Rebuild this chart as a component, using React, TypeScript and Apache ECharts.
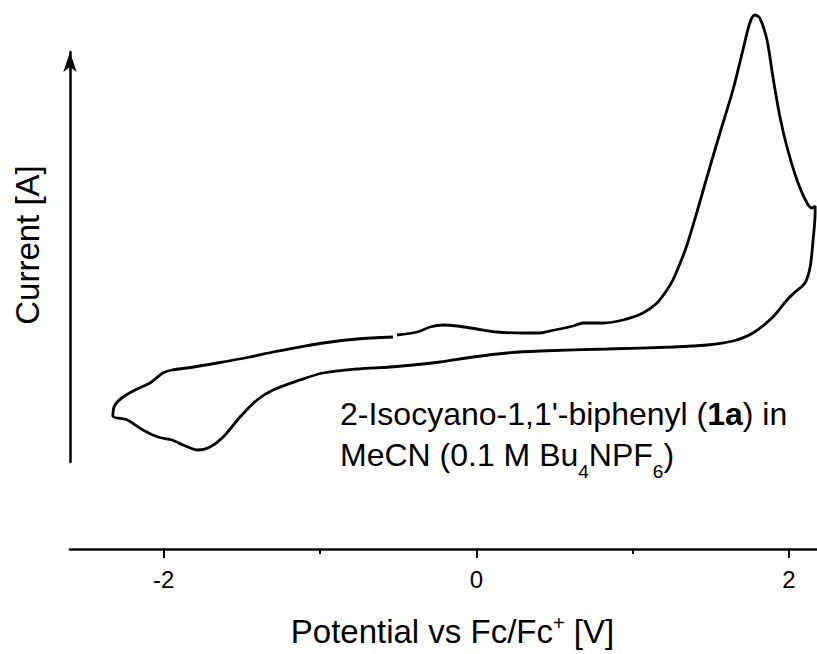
import React, { useEffect, useRef } from "react";
import * as echarts from "echarts";

// Anodic (forward) scan, from the start point to the positive vertex
const forwardPotential = [-0.507, -0.379, -0.296, -0.213, -0.123, 0.004, 0.132, 0.299, 0.408, 0.472, 0.619, 0.683, 0.811, 0.939, 1.066, 1.156, 1.22, 1.258, 1.302, 1.348, 1.412, 1.476, 1.559, 1.642, 1.706, 1.75, 1.782, 1.814, 1.86, 1.898, 1.943, 1.988, 2.052, 2.116, 2.149, 2.168];
const forwardCurrent = [21.4, 21.7, 22.2, 22.4, 22.3, 22.0, 21.7, 21.6, 21.6, 21.8, 22.3, 22.6, 22.6, 22.9, 23.6, 24.6, 25.9, 26.9, 28.5, 30.4, 33.7, 37.2, 41.6, 45.9, 49.9, 52.6, 53.4, 53.1, 50.9, 47.2, 43.2, 40.2, 36.9, 34.6, 34.1, 34.3];

// Cathodic (reverse) scan, from the positive vertex to the negative vertex
const reversePotential = [2.168, 2.155, 2.136, 2.103, 2.04, 1.988, 1.898, 1.77, 1.642, 1.476, 1.258, 0.836, 0.408, 0.196, -0.021, -0.232, -0.341, -0.552, -0.763, -0.981, -1.129, -1.301, -1.403, -1.512, -1.62, -1.704, -1.781, -1.877, -1.947, -2.037, -2.133, -2.234, -2.326];
const reverseCurrent = [33.6, 30.9, 28.2, 26.6, 25.7, 24.9, 23.2, 21.6, 20.8, 20.4, 20.2, 20.0, 19.8, 19.6, 19.2, 18.7, 18.5, 18.2, 18.0, 17.6, 16.9, 15.9, 14.9, 13.2, 11.2, 10.2, 9.9, 10.4, 10.9, 11.2, 11.9, 12.9, 13.3];

// Return scan, from the negative vertex back toward the start
const returnPotential = [-2.312, -2.26, -2.171, -2.088, -2.005, -1.947, -1.851, -1.659, -1.448, -1.301, -1.129, -0.981, -0.763, -0.533];
const returnCurrent = [14.4, 15.2, 16.0, 16.6, 17.6, 17.9, 18.1, 18.6, 19.2, 19.7, 20.2, 20.6, 21.0, 21.2];

const majorTicks = [-2, 0, 2];
const minorTicks = [-1, 1];

const FONT = "'Liberation Sans', Arial, Helvetica, sans-serif";

export default function App() {
  const ref = useRef<HTMLDivElement>(null);

  useEffect(() => {
    if (!ref.current) return;
    const chart = echarts.init(ref.current, null, { renderer: "svg" });

    const data: number[][] = [];
    forwardPotential.forEach((v, i) => data.push([v, forwardCurrent[i]]));
    reversePotential.forEach((v, i) => data.push([v, reverseCurrent[i]]));
    returnPotential.forEach((v, i) => data.push([v, returnCurrent[i]]));

    const xMin = -2.6;
    const xMax = 2.18;

    chart.setOption({
      animation: false,
      backgroundColor: "#ffffff",
      textStyle: { fontFamily: FONT, color: "#000" },
      grid: [
        { left: 70, right: 0, top: 0, bottom: 105 },
        { left: 70, right: 0, top: 52, bottom: 192 },
      ],
      xAxis: [
        {
          gridIndex: 0,
          type: "value",
          min: xMin,
          max: xMax,
          position: "bottom",
          axisLine: { show: true, onZero: false, lineStyle: { color: "#000", width: 2.5 } },
          axisTick: {
            show: true,
            customValues: majorTicks,
            length: 9,
            inside: false,
            lineStyle: { color: "#000", width: 2 },
          },
          axisLabel: {
            show: true,
            customValues: majorTicks,
            fontSize: 24,
            fontFamily: FONT,
            color: "#000",
            margin: 18,
          },
          splitLine: { show: false },
          name: "{t|Potential vs Fc/Fc}{sup|+}{t| [V]}",
          nameLocation: "middle",
          nameGap: 64,
          nameTextStyle: {
            fontFamily: FONT,
            color: "#000",
            padding: [0, 0, 0, 18],
            rich: {
              t: { fontSize: 33, fontFamily: FONT, color: "#000", lineHeight: 36 },
              sup: { fontSize: 20, fontFamily: FONT, color: "#000", verticalAlign: "top", lineHeight: 20 },
            },
          },
        },
        {
          gridIndex: 0,
          type: "value",
          min: xMin,
          max: xMax,
          position: "bottom",
          axisLine: { show: false, onZero: false },
          axisTick: {
            show: true,
            customValues: minorTicks,
            length: 5,
            inside: false,
            lineStyle: { color: "#000", width: 2 },
          },
          axisLabel: { show: false },
          splitLine: { show: false },
        },
        {
          gridIndex: 1,
          type: "value",
          min: xMin,
          max: xMax,
          show: false,
          axisLine: { onZero: false },
        },
      ],
      yAxis: [
        {
          gridIndex: 0,
          type: "value",
          min: 0,
          max: 54.9,
          show: false,
          axisLine: { onZero: false },
        },
        {
          gridIndex: 1,
          type: "value",
          min: 0,
          max: 1,
          position: "left",
          axisLine: {
            show: true,
            onZero: false,
            symbol: ["none", "arrow"],
            symbolSize: [10, 20],
            lineStyle: { color: "#000", width: 2.5 },
          },
          axisTick: { show: false },
          axisLabel: { show: false },
          splitLine: { show: false },
        },
      ],
      series: [
        {
          type: "line",
          xAxisIndex: 0,
          yAxisIndex: 0,
          data,
          showSymbol: false,
          smooth: 0.3,
          clip: false,
          lineStyle: { color: "#000", width: 2.8 },
        },
      ],
      graphic: [
        {
          type: "text",
          x: 27,
          y: 245,
          rotation: Math.PI / 2,
          style: {
            text: "Current [A]",
            fontFamily: FONT,
            fontSize: 33,
            fill: "#000",
            align: "center",
            verticalAlign: "middle",
          },
        },
        {
          type: "text",
          left: 340,
          top: 398,
          style: {
            text:
              "{t|2-Isocyano-1,1'-biphenyl (}{b|1a}{t|) in}\n{t|MeCN (0.1 M Bu}{s|4}{t|NPF}{s|6}{t|)}",
            fontFamily: FONT,
            fontSize: 32,
            fill: "#000",
            rich: {
              t: { fontSize: 32, fontFamily: FONT, lineHeight: 41, fill: "#000" },
              b: { fontSize: 32, fontFamily: FONT, fontWeight: "bold", lineHeight: 41, fill: "#000" },
              s: { fontSize: 19, fontFamily: FONT, lineHeight: 14, verticalAlign: "bottom", padding: [0, 0, -5, 0], fill: "#000" },
            },
          },
        },
      ],
    });

    return () => chart.dispose();
  }, []);

  return (
    <div
      ref={ref}
      style={{ position: "fixed", left: 0, top: 0, width: 817, height: 654 }}
    />
  );
}
